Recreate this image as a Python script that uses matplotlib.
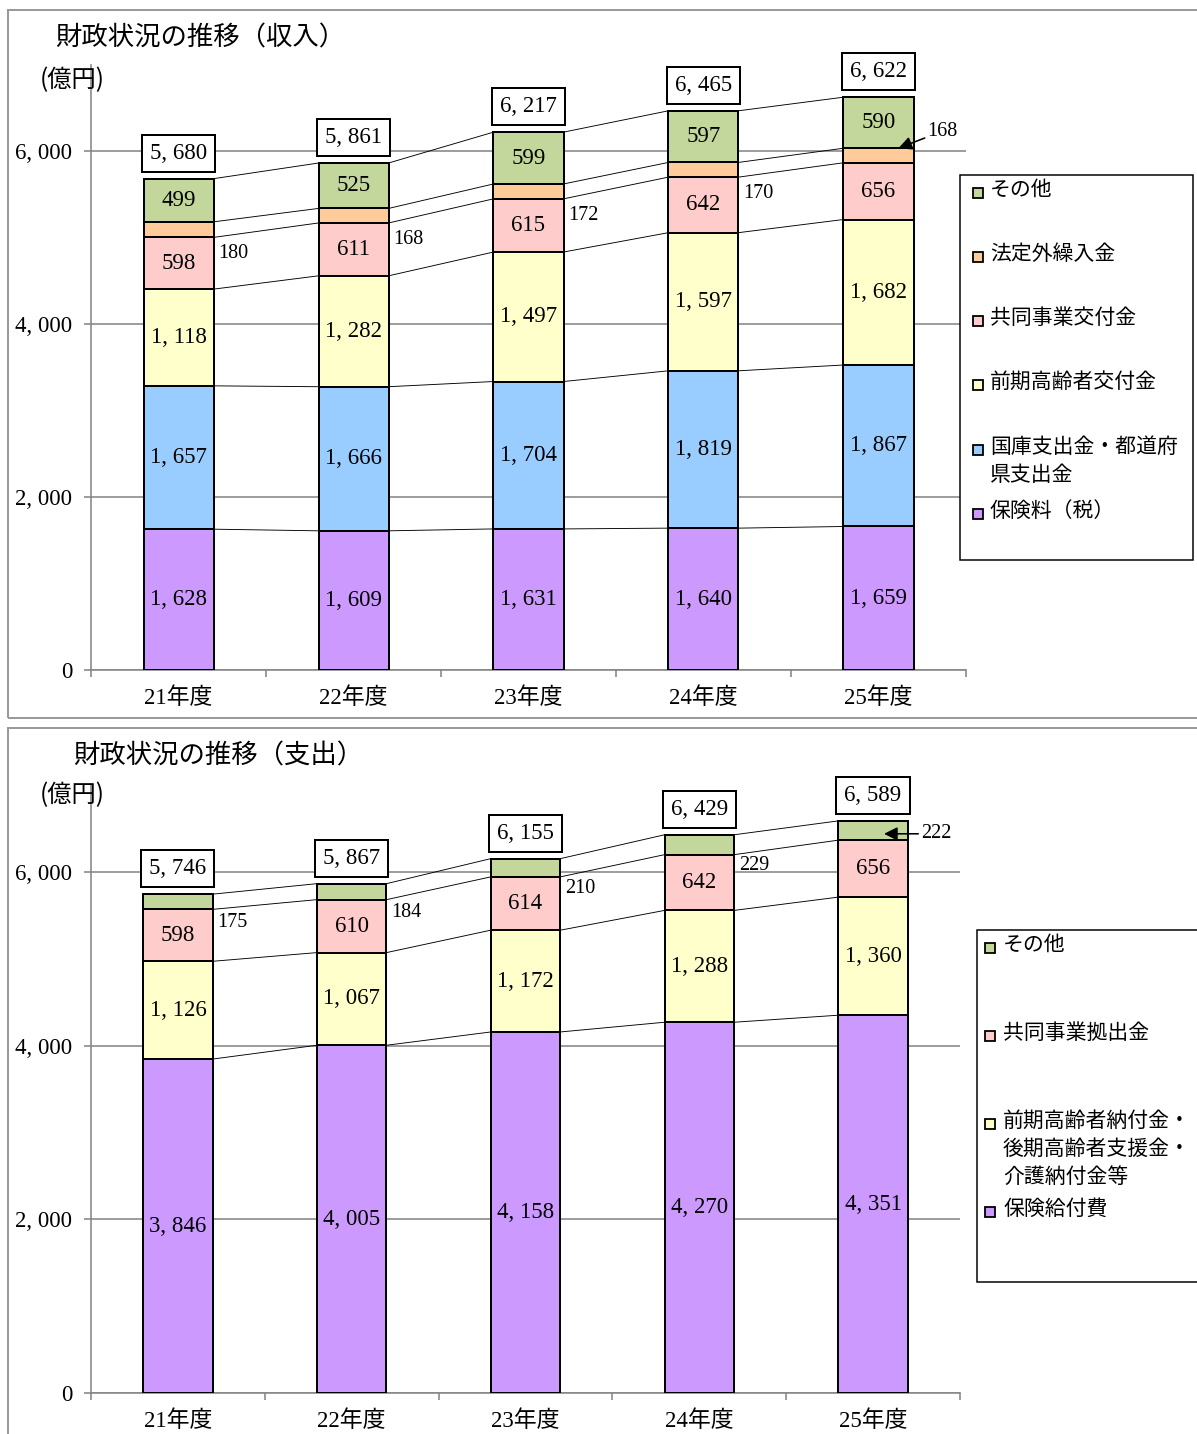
import matplotlib
matplotlib.use("Agg")
import matplotlib.pyplot as plt
from matplotlib.patches import Rectangle
import numpy as np

# ---------------- data ----------------
years = ['21年度', '22年度', '23年度', '24年度', '25年度']

rev_hokenryo = [1628, 1609, 1631, 1640, 1659]   # 保険料（税）
rev_kokko    = [1657, 1666, 1704, 1819, 1867]   # 国庫支出金・都道府県支出金
rev_zenki    = [1118, 1282, 1497, 1597, 1682]   # 前期高齢者交付金
rev_kyodo    = [598, 611, 615, 642, 656]        # 共同事業交付金
rev_hoteigai = [180, 168, 172, 170, 168]        # 法定外繰入金
rev_sonota   = [499, 525, 599, 597, 590]        # その他
rev_total    = [5680, 5861, 6217, 6465, 6622]

exp_kyufu  = [3846, 4005, 4158, 4270, 4351]     # 保険給付費
exp_zenki  = [1126, 1067, 1172, 1288, 1360]     # 前期高齢者納付金・後期高齢者支援金・介護納付金等
exp_kyodo  = [598, 610, 614, 642, 656]          # 共同事業拠出金
exp_sonota = [175, 184, 210, 229, 222]          # その他
exp_total  = [5746, 5867, 6155, 6429, 6589]

rev_labels = ['保険料（税）', '国庫支出金・都道府県支出金', '前期高齢者交付金',
              '共同事業交付金', '法定外繰入金', 'その他']
exp_labels = ['保険給付費', '前期高齢者納付金・後期高齢者支援金・介護納付金等',
              '共同事業拠出金', 'その他']

yticks = [0, 2000, 4000, 6000]

# ---------------- style ----------------
C_PURPLE = '#CC99FF'
C_BLUE = '#99CCFF'
C_YELLOW = '#FFFFCC'
C_PINK = '#FFCCCC'
C_ORANGE = '#FFCC99'
C_GREEN = '#C3D69B'
GRID = '#868686'

NUM = ['Liberation Serif', 'Noto Sans CJK JP']
JP = ['Noto Sans CJK JP', 'DejaVu Sans']
plt.rcParams['font.family'] = NUM

W, H = 1197, 1434
DPI = 100
fig = plt.figure(figsize=(W / DPI, H / DPI), dpi=DPI)
PX = 72.0 / DPI  # points per pixel


def fx(x):
    return x / W


def fy(y):
    return 1 - y / H


def fmt(v):
    return f"{v:,}".replace(",", ", ")


def panel_frame(y0, y1):
    fig.patches.append(Rectangle((fx(8), fy(y1)), fx(1210) - fx(8), fy(y0) - fy(y1),
                                 transform=fig.transFigure, fill=False,
                                 edgecolor='#9a9a9a', linewidth=2 * PX, zorder=0))


def setup_axes(ax):
    ax.set_xlim(-0.5, 4.5)
    ax.set_ylim(0, 7000)
    for s in ['top', 'right']:
        ax.spines[s].set_visible(False)
    for s in ['left', 'bottom']:
        ax.spines[s].set_color(GRID)
        ax.spines[s].set_linewidth(1.6 * PX)
    ax.set_yticks(yticks)
    ax.set_yticklabels([fmt(v) for v in yticks], fontsize=16.5)
    ax.tick_params(axis='y', length=7 * PX, width=1.6 * PX, color=GRID, pad=12 * PX)
    ax.set_xticks(range(len(years)))
    ax.set_xticklabels(years, fontsize=16.5)
    ax.tick_params(axis='x', which='major', length=0, pad=17 * PX)
    ax.set_xticks(np.arange(-0.5, len(years), 1.0), minor=True)
    ax.tick_params(axis='x', which='minor', length=7 * PX, width=1.6 * PX, color=GRID)
    ax.yaxis.grid(True, color=GRID, linewidth=1.6 * PX)
    ax.set_axisbelow(True)


def stacked(ax, series, colors, label_mask, width=0.4):
    x = np.arange(len(years))
    bottom = np.zeros(len(years))
    tops = []
    for vals, col, show in zip(series, colors, label_mask):
        vals = np.array(vals, dtype=float)
        ax.bar(x, vals, width, bottom=bottom, color=col, edgecolor='black',
               linewidth=2 * PX, zorder=3)
        if show:
            for i in range(len(x)):
                ax.text(x[i], bottom[i] + vals[i] / 2, fmt(int(vals[i])), ha='center',
                        va='center', fontsize=16.5, zorder=5)
        bottom = bottom + vals
        tops.append(bottom.copy())
    # connecting lines between bars
    for t in tops:
        for i in range(len(x) - 1):
            ax.plot([x[i] + width / 2, x[i + 1] - width / 2], [t[i], t[i + 1]],
                    color='black', linewidth=0.9 * PX, zorder=2)
    return tops


def total_boxes(ax, totals, stack_top):
    for i, (t, st) in enumerate(zip(totals, stack_top)):
        ax.annotate(fmt(t), xy=(i, st), xytext=(0, 15 * PX), textcoords='offset points',
                    ha='center', va='bottom', fontsize=16.5, zorder=6,
                    bbox=dict(boxstyle='square,pad=0.35', facecolor='white',
                              edgecolor='black', linewidth=2 * PX))


def legend_box(x0, y0, x1, y1, entries, mx, tx, fs):
    fig.patches.append(Rectangle((fx(x0), fy(y1)), fx(x1) - fx(x0), fy(y0) - fy(y1),
                                 transform=fig.transFigure, facecolor='white',
                                 edgecolor='black', linewidth=1.5 * PX, zorder=10))
    for lines, col, yc in entries:
        fig.patches.append(Rectangle((fx(mx), fy(yc + 8)), fx(10), fy(yc - 2) - fy(yc + 8),
                                     transform=fig.transFigure, facecolor=col,
                                     edgecolor='black', linewidth=1.8 * PX, zorder=11))
        for k, ln in enumerate(lines):
            fig.text(fx(tx), fy(yc + 28 * k), ln, ha='left', va='center', fontsize=fs,
                     family=JP, zorder=12)


# ================= top panel: 収入 =================
panel_frame(10, 718)
ax1 = fig.add_axes([fx(91), fy(670), fx(966) - fx(91), fy(64.5) - fy(670)])
setup_axes(ax1)
tops1 = stacked(ax1, [rev_hokenryo, rev_kokko, rev_zenki, rev_kyodo, rev_hoteigai, rev_sonota],
                [C_PURPLE, C_BLUE, C_YELLOW, C_PINK, C_ORANGE, C_GREEN],
                [True, True, True, True, False, True])
total_boxes(ax1, rev_total, tops1[-1])
# small values (法定外繰入金)
for i in range(4):
    yc = tops1[3][i] + rev_hoteigai[i] / 2
    ax1.annotate(str(rev_hoteigai[i]), xy=(i + 0.2, yc), xytext=(5 * PX, -24 * PX),
                 textcoords='offset points', ha='left', va='center', fontsize=14.5, zorder=6)
ax1.annotate(str(rev_hoteigai[4]), xy=(4 + 0.114, tops1[4][4]), xytext=(4.28, 6231),
             ha='left', va='center', fontsize=14.5, zorder=6,
             arrowprops=dict(arrowstyle='-|>', color='black', lw=1.6 * PX,
                             mutation_scale=20, shrinkA=0, shrinkB=0))

fig.text(fx(55), fy(38), '財政状況の推移（収入）', ha='left', va='center', fontsize=19, family=JP)
fig.text(fx(40), fy(80), '(億円)', ha='left', va='center', fontsize=17.5, family=JP)

legend_box(960, 175, 1193, 560,
           [(['その他'], C_GREEN, 190),
            (['法定外繰入金'], C_ORANGE, 254),
            (['共同事業交付金'], C_PINK, 318),
            (['前期高齢者交付金'], C_YELLOW, 382),
            (['国庫支出金・都道府', '県支出金'], C_BLUE, 447),
            (['保険料（税）'], C_PURPLE, 511)],
           973, 990, 15)

# ================= bottom panel: 支出 =================
panel_frame(728, 1450)
ax2 = fig.add_axes([fx(91), fy(1393), fx(960) - fx(91), fy(785.2) - fy(1393)])
setup_axes(ax2)
tops2 = stacked(ax2, [exp_kyufu, exp_zenki, exp_kyodo, exp_sonota],
                [C_PURPLE, C_YELLOW, C_PINK, C_GREEN],
                [True, True, True, False])
total_boxes(ax2, exp_total, tops2[-1])
for i in range(4):
    yc = tops2[2][i] + exp_sonota[i] / 2
    ax2.annotate(str(exp_sonota[i]), xy=(i + 0.2, yc), xytext=(5 * PX, -21 * PX),
                 textcoords='offset points', ha='left', va='center', fontsize=14.5, zorder=6)
y222 = tops2[2][4] + exp_sonota[4] * 0.33
ax2.annotate(str(exp_sonota[4]), xy=(4 + 0.063, y222), xytext=(4.276, y222),
             ha='left', va='center', fontsize=14.5, zorder=6,
             arrowprops=dict(arrowstyle='-|>', color='black', lw=1.6 * PX,
                             mutation_scale=20, shrinkA=0, shrinkB=0))

fig.text(fx(73), fy(756), '財政状況の推移（支出）', ha='left', va='center', fontsize=19, family=JP)
fig.text(fx(40), fy(795), '(億円)', ha='left', va='center', fontsize=17.5, family=JP)

legend_box(977, 930, 1215, 1282,
           [(['その他'], C_GREEN, 945),
            (['共同事業拠出金'], C_PINK, 1033),
            (['前期高齢者納付金・', '後期高齢者支援金・', '介護納付金等'], C_YELLOW, 1121),
            (['保険給付費'], C_PURPLE, 1209)],
           985, 1003, 15)

fig.savefig('out.png', dpi=DPI)
